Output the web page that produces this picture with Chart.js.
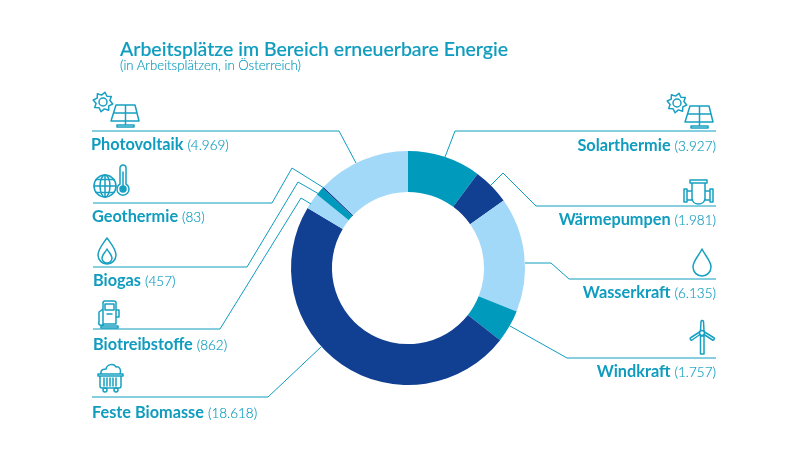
<!DOCTYPE html>
<html lang="de">
<head>
<meta charset="utf-8">
<title>Arbeitsplätze im Bereich erneuerbare Energie</title>
<script src="https://cdn.jsdelivr.net/npm/chart.js@4"></script>
<style>
  html, body { margin: 0; padding: 0; background: #fff; }
  #wrap { position: relative; width: 800px; height: 450px; overflow: hidden; font-family: Lato, sans-serif; color: #0f9cbe; }
  #ringChart, #overlay { position: absolute; left: 0; top: 0; }
  #title { position: absolute; left: 120px; top: 37px; font-size: 19.5px; font-weight: 500; -webkit-text-stroke: 0.15px #0f9cbe; white-space: nowrap; line-height: 24px; }
  #subtitle { position: absolute; left: 120px; top: 57px; font-size: 13.2px; font-weight: 300; -webkit-text-stroke: 0.15px #0f9cbe; white-space: nowrap; line-height: 16px; }
  .lbl { position: absolute; font-size: 16.3px; font-weight: 700; white-space: nowrap; line-height: 18px; }
  .lbl span { font-size: 13.5px; font-weight: 300; -webkit-text-stroke: 0.15px #0f9cbe; }
  #overlay .line { fill: none; stroke: #0f9cbe; stroke-width: 1; }
  #overlay .icon { fill: none; stroke: #17a0c2; stroke-width: 1.5; stroke-linejoin: round; stroke-linecap: round; }
</style>
</head>
<body>
<div id="wrap">
  <canvas id="ringChart" width="800" height="450"></canvas>
  <svg id="overlay" width="800" height="450" viewBox="0 0 800 450"></svg>
  <div id="title">Arbeitsplätze im Bereich erneuerbare Energie</div>
  <div id="subtitle">(in Arbeitsplätzen, in Österreich)</div>
</div>
<script>
// Daten im Uhrzeigersinn ab 12 Uhr
const categories = ["Solarthermie", "Wärmepumpen", "Wasserkraft", "Windkraft", "Feste Biomasse", "Biotreibstoffe", "Biogas", "Geothermie", "Photovoltaik"];
const jobs = [3927, 1981, 6135, 1757, 18618, 862, 457, 83, 4969];
const sliceColors = ["#009abd", "#113f92", "#a3d9f8", "#009abd", "#113f92", "#a3d9f8", "#009abd", "#113f92", "#a3d9f8"];

// Beschriftung: x = Kante, top = Oberkante, side = Ausrichtung
const labelPos = {
  "Photovoltaik": { x: 91, top: 135, side: "left" },
  "Geothermie": { x: 92, top: 207, side: "left" },
  "Biogas": { x: 93, top: 271, side: "left" },
  "Biotreibstoffe": { x: 93, top: 335, side: "left" },
  "Feste Biomasse": { x: 92, top: 403, side: "left" },
  "Solarthermie": { x: 716, top: 136, side: "right" },
  "Wärmepumpen": { x: 716, top: 210, side: "right" },
  "Wasserkraft": { x: 716, top: 283, side: "right" },
  "Windkraft": { x: 716, top: 362, side: "right" }
};

// Hinweislinien
const leaders = [
  "92,131 339,131 356,163",
  "93,203 272,203 292,168 324,188",
  "93,267 247,267 298,182 319,194",
  "93,329 220,329 301,198 311,204",
  "92,397 268,397 321,347",
  "716,131 455,131 445,157",
  "716,206 536,206 503,173 491,185",
  "716,279 569,279 551,263 525,263",
  "716,358 567,358 510,326"
];

function sunPath(cx, cy) {
  const pts = [];
  for (let i = 0; i < 16; i++) {
    const r = i % 2 ? 7 : 10;
    const a = i * Math.PI / 8 + Math.PI / 16;
    pts.push((cx + r * Math.cos(a)).toFixed(1) + "," + (cy + r * Math.sin(a)).toFixed(1));
  }
  return pts.join(" ");
}

// Icons als einfache Umrisse
const icons = {
  solar: `<polygon points="${sunPath(10, 10)}"/><circle cx="10" cy="10" r="4"/>
    <path d="M23 13H42L46 29H18Z M32.500 13V29 M20.500 21H44 M32.500 29V33 M24 35H41V33H24Z"/>`,
  geo: `<circle cx="12" cy="22" r="11"/><ellipse cx="12" cy="22" rx="5" ry="11"/><path d="M12 11V33M1 22H23M3 15.500H21M3 28.500H21"/>
    <path d="M30 1a3 3 0 0 1 3 3V20a6 6 0 1 1-6 0V4a3 3 0 0 1 3-3Z"/><circle cx="30" cy="25" r="3" fill="#17a0c2"/><path d="M30 8V25"/>`,
  flame: `<path d="M10 1C15 8 19 12 19 18A9 9 0 0 1 1 18C1 12 5 8 10 1Z"/><path d="M10 12C12 16 15 18 15 21A5 5 0 0 1 5 21C5 18 8 16 10 12Z"/>`,
  pump: `<path d="M5 26V3a2 2 0 0 1 2-2H16a2 2 0 0 1 2 2V24H5Z M7 4H16V10H7Z M3 26H20V28H3Z M5 9L1 12V22a2 2 0 0 0 4 2 M18 10H21V17H18 M9 14H14"/>`,
  cart: `<path d="M1 13H26V15H1Z M3 15V25a2 2 0 0 0 2 2H22a2 2 0 0 0 2-2V15 M7 17V25M10 17V25M13 17V25M16 17V25M19 17V25 M4 13C3 8 8 8 9 8C10 3 17 2 19 6C22 5 25 9 23 13"/><circle cx="8" cy="29" r="2"/><circle cx="19" cy="29" r="2"/>`,
  pipe: `<path d="M1 10H4V23H1Z M27 10H30V23H27Z M4 12H9V21H4Z M22 12H27V21H22Z M9 4V19C9 27 22 27 22 19V4Z M7 1H24V4H7Z"/>`,
  drop: `<path d="M10 1C14 9 19 13 19 19A9 9 0 0 1 1 19C1 13 6 9 10 1Z"/>`,
  turbine: `<circle cx="12" cy="14" r="2.500"/><path d="M10.500 12L11 2.500a1.300 1.300 0 0 1 2.500 0L14 12 M10 15.500L2 21a1.300 1.300 0 0 1-1-2.500L9.500 13 M14 15.500L22.500 21a1.300 1.300 0 0 0 1-2.500L14.500 13 M10.500 17H14V35H10.500Z"/>`
};

const iconPos = [
  ["solar", 93, 92], ["geo", 93, 164], ["flame", 97, 237], ["pump", 98, 300], ["cart", 97, 361],
  ["solar", 667, 93], ["pipe", 683, 179], ["drop", 692, 248], ["turbine", 690, 319]
];

const overlay = document.getElementById("overlay");
let svgParts = "";
leaders.forEach((pts) => {
  svgParts += `<polyline class="line" points="${pts}"/>`;
});
iconPos.forEach(([name, x, y]) => {
  svgParts += `<g class="icon" transform="translate(${x} ${y})">${icons[name]}</g>`;
});
overlay.innerHTML = svgParts;

const wrap = document.getElementById("wrap");
categories.forEach((name, i) => {
  const pos = labelPos[name];
  const div = document.createElement("div");
  div.className = "lbl";
  div.style.top = pos.top + "px";
  if (pos.side === "left") div.style.left = pos.x + "px";
  else div.style.right = (800 - pos.x) + "px";
  div.innerHTML = `${name} <span>(${jobs[i].toLocaleString("de-DE")})</span>`;
  wrap.appendChild(div);
});

new Chart(document.getElementById("ringChart"), {
  type: "doughnut",
  data: {
    labels: categories,
    datasets: [{ data: jobs, backgroundColor: sliceColors, borderWidth: 0 }]
  },
  options: {
    responsive: false,
    animation: false,
    cutout: "65%",
    layout: { padding: { left: 291, right: 275, top: 151, bottom: 65 } },
    plugins: { legend: { display: false }, tooltip: { enabled: false } }
  }
});
</script>
</body>
</html>
